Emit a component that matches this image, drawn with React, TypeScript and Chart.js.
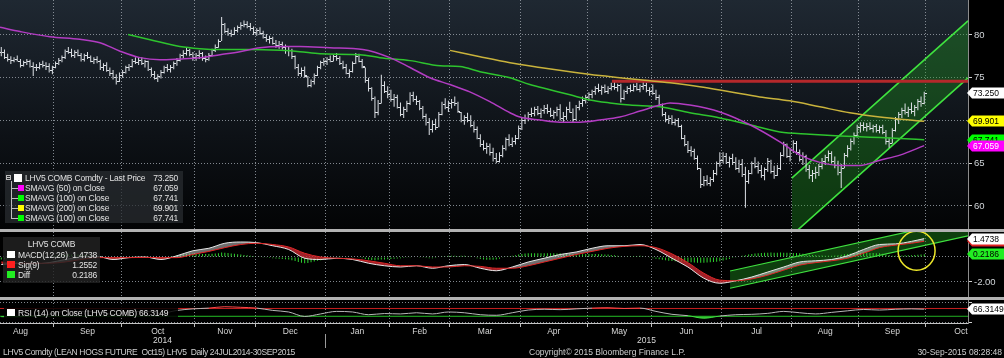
import React, { useEffect, useRef } from 'react';
import { Chart, registerables } from 'chart.js';

Chart.register(...registerables);

const FONT = "'Liberation Sans', Arial, Helvetica, sans-serif";
const GRID = 'rgba(150,158,166,0.85)';

// x axis = trading-session index (0 = first visible session, Aug 2014; 289 = 30 Sep 2015)
const X_MIN = -0.4;
const X_MAX = 302.7;
const MONTH_BOUNDS = [16.5, 37.5, 60.5, 79.5, 101.5, 121.5, 140.5, 162.5, 183.5, 203.5, 225.5, 247.5, 268.5, 289.5];
const MONTH_CENTERS = [6, 27, 49, 70, 90.5, 111.5, 131, 151.5, 173, 193.5, 214.5, 236.5, 258, 279, 300.5];
const MONTH_LABELS = ['Aug', 'Sep', 'Oct', 'Nov', 'Dec', 'Jan', 'Feb', 'Mar', 'Apr', 'May', 'Jun', 'Jul', 'Aug', 'Sep', 'Oct'];
const YEAR_CENTERS = [50.5, 202];
const YEAR_LABELS = ['2014', '2015'];
const YEAR_SPLIT = 101.5;

// Daily bars, LHV5 COMB
const HIGH = [
  78.6, 78.3, 77.8, 77.5, 77.4, 77.6, 77.2, 77.0, 77.2, 77.1, 76.8, 76.6, 76.8, 77.0, 76.8, 76.7, 76.4,
  76.9, 77.3, 77.6, 78.3, 78.6, 78.4, 78.2, 78.3, 77.9, 77.8, 78.0, 77.6, 77.4, 77.5, 77.1, 76.7, 76.8, 76.2, 75.9, 75.4, 75.6,
  75.9, 76.4, 76.6, 77.2, 77.4, 77.3, 77.4, 77.1, 77.0, 76.2, 75.8, 75.4, 75.9, 76.4, 76.6, 76.5, 76.9, 77.3, 77.8, 78.2, 78.5, 78.4, 78.0,
  77.9, 78.2, 78.0, 77.6, 77.9, 78.4, 78.9, 79.5, 82.1, 81.4, 80.8, 80.6, 80.9, 81.1, 81.5, 81.7, 81.6, 81.4, 81.0,
  80.8, 80.9, 80.5, 80.1, 79.9, 79.8, 79.4, 79.3, 79.2, 78.9, 78.6, 78.4, 77.6, 76.6, 76.2, 76.3, 75.2, 74.8, 75.5, 76.4, 77.0, 77.3,
  77.4, 77.6, 77.7, 77.9, 77.5, 77.0, 76.6, 76.0, 76.9, 77.9, 77.8, 77.2, 76.2, 75.0, 73.9, 72.8, 72.4, 75.35, 74.6, 74.0,
  73.6, 73.1, 73.0, 72.1, 71.6, 72.3, 73.3, 73.35, 72.9, 72.4, 71.7, 70.8, 70.3, 70.0, 70.2, 71.0, 72.2, 72.6, 72.3,
  72.5, 72.8, 72.2, 71.0, 70.6, 70.9, 70.6, 69.9, 69.3, 68.4, 67.7, 67.4, 67.3, 66.8, 66.2, 66.3, 67.1, 68.0, 68.4, 68.0, 68.3, 69.4,
  70.4, 70.7, 71.0, 71.5, 71.6, 71.7, 71.4, 71.8, 71.9, 71.5, 71.2, 71.6, 71.9, 71.0, 71.6, 72.2, 71.4, 71.8, 72.3, 72.8, 73.0,
  73.3, 73.6, 74.0, 74.3, 74.1, 74.2, 74.0, 74.4, 74.5, 74.3, 74.3, 73.6, 74.0, 74.2, 74.3, 74.4, 74.2, 74.5, 74.4, 73.9,
  74.2, 73.6, 73.0, 72.0, 71.0, 70.6, 70.6, 70.2, 70.3, 69.5, 68.3, 67.6, 67.0, 66.7, 65.9, 64.4, 63.5, 63.6, 63.4, 64.2, 65.2, 66.3,
  66.3, 66.2, 65.8, 66.1, 65.7, 65.4, 65.5, 64.6, 64.2, 65.2, 65.7, 65.2, 64.8, 64.5, 65.6, 65.4, 64.7, 64.8, 66.3, 67.5, 67.3, 66.7,
  67.7, 67.6, 66.6, 66.3, 66.0, 64.8, 64.2, 64.6, 64.9, 65.6, 66.0, 66.5, 66.4, 65.8, 65.3, 64.9, 66.2, 67.1, 67.9, 68.6, 69.5,
  69.8, 69.8, 69.7, 69.8, 69.5, 69.6, 69.4, 69.5, 68.9, 68.0, 69.1, 70.4, 71.0, 71.5, 72.0, 71.6, 72.1, 71.8, 72.5, 72.8, 73.35,
];
const LOW = [
  77.5, 77.2, 76.9, 76.6, 76.8, 76.9, 76.2, 76.3, 76.5, 76.2, 75.2, 75.8, 76.0, 76.2, 75.9, 75.6, 75.4,
  76.1, 76.5, 76.8, 77.2, 77.8, 77.4, 77.3, 77.5, 76.9, 76.9, 77.2, 76.8, 76.6, 76.7, 75.9, 75.8, 75.7, 75.2, 74.8, 74.2, 74.5,
  75.0, 75.5, 75.8, 76.2, 76.6, 76.5, 76.5, 76.2, 75.8, 75.1, 74.8, 74.5, 74.9, 75.5, 75.7, 75.6, 76.0, 76.4, 76.9, 77.3, 77.6, 77.5, 77.0,
  77.0, 77.2, 77.0, 76.8, 77.0, 77.5, 78.0, 78.5, 79.3, 80.2, 79.9, 79.8, 80.0, 80.3, 80.6, 80.9, 80.8, 80.5, 80.0,
  79.9, 80.0, 79.6, 79.2, 79.0, 78.9, 78.5, 78.4, 78.3, 77.8, 77.5, 77.2, 76.0, 75.2, 75.1, 75.0, 73.9, 73.9, 74.2, 75.2, 76.0, 76.4,
  76.5, 76.8, 76.9, 77.0, 76.5, 76.0, 75.4, 75.0, 75.6, 76.6, 76.8, 76.1, 74.4, 73.4, 72.3, 70.3, 70.6, 72.0, 73.2, 72.6,
  72.2, 71.6, 71.4, 70.5, 70.3, 71.0, 71.8, 72.2, 71.8, 71.2, 70.2, 69.4, 68.3, 68.6, 68.9, 69.2, 70.6, 71.3, 71.0,
  71.4, 71.7, 70.9, 69.8, 69.5, 69.8, 69.2, 68.6, 67.8, 66.9, 66.5, 66.1, 65.9, 65.2, 65.0, 65.1, 65.7, 66.5, 67.0, 66.9, 67.2, 67.8,
  68.9, 69.6, 69.9, 70.4, 70.5, 70.6, 70.3, 70.8, 70.8, 70.4, 70.2, 70.5, 70.0, 69.7, 70.1, 70.9, 69.8, 70.0, 71.2, 71.6, 72.0,
  72.3, 72.6, 73.0, 73.3, 73.0, 73.2, 73.1, 73.5, 73.6, 73.4, 72.1, 72.4, 73.1, 73.3, 73.4, 73.5, 73.3, 73.6, 73.3, 72.9,
  73.0, 72.4, 71.6, 70.5, 69.8, 69.6, 69.5, 69.4, 69.2, 67.8, 67.0, 66.2, 65.8, 65.4, 64.2, 62.1, 62.3, 62.4, 62.3, 62.8, 63.6, 64.6,
  65.0, 64.9, 64.5, 64.8, 64.2, 63.9, 63.4, 59.8, 62.6, 63.7, 64.4, 63.8, 63.3, 63.0, 64.0, 63.8, 63.2, 63.5, 64.2, 65.8, 65.6, 65.2,
  66.2, 66.0, 65.2, 64.8, 64.0, 63.2, 62.8, 63.2, 63.5, 64.3, 64.8, 65.2, 65.0, 64.4, 63.6, 62.1, 64.4, 65.7, 66.5, 67.2, 68.0,
  68.6, 68.8, 68.7, 68.9, 68.6, 68.6, 68.5, 68.4, 67.2, 66.8, 67.3, 68.7, 69.6, 70.3, 70.7, 70.4, 70.8, 70.5, 71.2, 71.6, 71.9,
];
const CLOSE = [
  78.0, 77.4, 77.2, 77.1, 77.2, 77.0, 76.5, 76.8, 77.0, 76.4, 76.2, 76.3, 76.6, 76.5, 76.4, 75.9, 76.2,
  76.7, 77.1, 77.4, 78.1, 78.0, 77.6, 78.0, 77.7, 77.2, 77.6, 77.4, 77.0, 77.2, 76.9, 76.2, 76.5, 75.9, 75.6, 75.1, 74.6, 75.3,
  75.7, 76.2, 76.4, 77.0, 76.8, 77.1, 76.7, 76.9, 76.0, 75.4, 75.0, 75.2, 75.7, 76.2, 76.0, 76.3, 76.7, 77.1, 77.6, 77.9, 78.3, 77.8, 77.4,
  77.6, 77.9, 77.3, 77.2, 77.7, 78.2, 78.6, 79.3, 81.3, 80.5, 80.2, 80.1, 80.6, 80.9, 81.2, 81.3, 81.0, 80.8, 80.3,
  80.6, 80.2, 79.8, 79.5, 79.7, 79.1, 78.8, 79.0, 78.6, 78.2, 78.3, 77.5, 76.3, 75.6, 75.9, 75.3, 74.2, 74.6, 75.3, 76.2, 76.8, 76.9,
  77.2, 77.0, 77.5, 77.3, 76.7, 76.3, 75.6, 75.8, 76.7, 77.5, 77.0, 76.4, 74.7, 73.8, 72.6, 71.0, 72.1, 74.2, 73.5, 73.1,
  72.5, 72.8, 71.6, 70.8, 71.3, 72.0, 73.0, 72.5, 72.3, 71.5, 70.5, 69.8, 69.0, 69.6, 69.2, 70.8, 71.9, 71.6, 72.0,
  72.2, 72.0, 71.1, 70.1, 70.4, 70.0, 69.5, 69.0, 68.0, 67.2, 66.8, 67.0, 66.3, 65.6, 65.3, 66.0, 66.8, 67.8, 67.3, 67.6, 67.9, 69.1,
  70.1, 70.3, 70.8, 70.9, 71.3, 70.9, 71.2, 71.5, 71.1, 70.7, 71.0, 71.4, 70.3, 70.5, 71.4, 71.0, 70.2, 71.6, 72.0, 72.4, 72.8,
  73.1, 73.4, 73.8, 73.6, 73.9, 73.5, 73.8, 74.0, 73.9, 74.1, 72.6, 73.4, 73.8, 73.6, 74.0, 73.7, 74.0, 74.1, 73.6, 73.5,
  73.2, 72.7, 71.9, 70.8, 70.2, 70.3, 69.8, 70.0, 69.4, 68.0, 67.3, 66.6, 66.4, 65.6, 64.4, 62.6, 63.0, 62.7, 63.1, 63.9, 65.0, 65.4,
  65.8, 65.2, 65.6, 65.1, 64.5, 64.9, 63.8, 62.9, 63.9, 65.0, 64.7, 64.2, 63.6, 64.3, 65.3, 64.1, 63.6, 64.5, 66.0, 67.2, 65.9, 66.5,
  67.4, 66.3, 65.5, 65.9, 64.3, 63.6, 63.9, 64.0, 64.7, 65.3, 65.7, 66.2, 65.3, 64.8, 64.0, 64.5, 66.0, 66.8, 67.6, 68.3, 69.2,
  69.5, 69.2, 69.4, 69.1, 69.3, 68.9, 69.2, 68.7, 67.6, 67.4, 68.9, 70.2, 70.8, 71.2, 71.0, 71.4, 71.1, 71.6, 72.3, 72.0, 73.25,
];

// Moving averages: [session index, value]
const SMA50 = [
  [-0.4, 80.9], [5.9, 80.4], [15.2, 79.8], [24.6, 79.5], [30.9, 79.1], [37.2, 78.1], [43.4, 77.35], [49.7, 77.1],
  [55.9, 77.2], [62.2, 77.35], [68.5, 77.7], [74.7, 78.05], [81.0, 78.5], [87.3, 78.65], [93.5, 78.65], [102.9, 78.5],
  [113.2, 78.3], [121.7, 77.35], [128.0, 76.2], [134.2, 75.0], [140.5, 74.2], [146.7, 73.35], [153.0, 72.2], [159.3, 70.9],
  [162.4, 70.4], [168.7, 70.05], [174.9, 69.8], [181.2, 69.8], [187.4, 70.05], [193.7, 70.4], [200.0, 71.1], [206.2, 71.8],
  [209.4, 72.05], [215.6, 71.8], [225.0, 71.0], [234.4, 69.5], [243.8, 67.5], [250.1, 65.95], [256.3, 65.1], [262.6, 64.75],
  [268.9, 64.75], [275.1, 65.35], [281.4, 65.95], [289, 67.059],
];
const SMA100 = [
  [39.7, 80.05], [46.6, 79.45], [55.9, 78.65], [62.2, 78.4], [68.5, 78.3], [77.9, 78.3], [87.3, 78.2], [93.5, 78.05],
  [99.8, 77.8], [112.3, 77.7], [118.6, 77.35], [128.0, 77.0], [137.4, 76.4], [143.6, 76.3], [149.9, 75.7], [159.3, 75.0],
  [165.5, 74.2], [171.8, 73.6], [178.1, 73.0], [184.3, 72.4], [190.6, 72.05], [196.8, 71.8], [206.2, 71.6], [215.6, 70.9],
  [225.0, 70.3], [234.4, 69.5], [243.8, 68.65], [253.2, 68.4], [262.6, 68.2], [272.0, 68.05], [281.4, 67.9], [289, 67.741],
];
const SMA200 = [
  [140.5, 78.2], [149.9, 77.45], [159.3, 76.75], [168.7, 76.2], [178.1, 75.7], [187.4, 75.25], [193.7, 75.0], [200.0, 74.75],
  [209.4, 74.4], [218.7, 73.95], [228.1, 73.35], [237.5, 72.75], [246.9, 72.3], [256.3, 71.6], [265.7, 70.9], [275.1, 70.4],
  [284.5, 70.05], [289, 69.901],
];
const RESIST_LEVEL = 74.6;
const RESIST_FROM = 191.2;
const CHANNEL_X = [247.5, 302.7];
const CHANNEL_UP = [63.25, 81.65];
const CHANNEL_LO = [56.57, 74.98];
const MAIN_TICKS = [60, 65, 70, 75, 80];

// MACD panel
const IND_X = [0, 5, 10, 15, 20, 25, 30, 35, 40, 45, 50, 55, 60, 65, 70, 75, 80, 85, 90, 95, 100, 105, 110, 115, 120, 125, 130, 135, 140, 145,
  150, 155, 160, 165, 170, 175, 180, 185, 190, 195, 200, 205, 210, 215, 220, 225, 230, 235, 240, 245, 250, 255, 260, 265, 270, 275, 280, 285, 289];
const MACD = [-0.6, -0.5, -0.55, -0.45, -0.2, 0.0, 0.05, -0.2, -0.05, 0.0, -0.2, 0.1, 0.5, 0.7, 1.1, 1.2, 1.15, 0.9, 0.6, -0.1,
  -0.2, -0.1, -0.2, -0.5, -0.7, -0.8, -0.7, -0.9, -0.7, -0.6, -0.9, -1.1, -0.8, -0.4, -0.1, 0.2, 0.4, 0.7, 0.9, 0.9,
  1.0, 0.6, -0.1, -0.8, -1.7, -2.1, -1.9, -1.6, -1.2, -0.8, -0.4, -0.3, -0.2, 0.1, 0.6, 1.0, 1.05, 1.25, 1.4738];
const SIGNAL = [-0.4, -0.5, -0.5, -0.5, -0.4, -0.2, -0.05, -0.05, -0.05, -0.03, -0.05, -0.05, 0.2, 0.45, 0.75, 1.0, 1.1, 1.0, 0.8, 0.3,
  0.0, -0.1, -0.15, -0.3, -0.5, -0.7, -0.7, -0.8, -0.8, -0.7, -0.75, -0.9, -0.9, -0.7, -0.4, -0.1, 0.2, 0.45, 0.7, 0.85,
  0.9, 0.75, 0.25, -0.45, -1.3, -1.85, -1.9, -1.75, -1.45, -1.05, -0.65, -0.45, -0.3, -0.1, 0.3, 0.75, 0.95, 1.1, 1.2552];
const DIFF = [
  -0.20, -0.17, -0.13, -0.09, -0.04, 0.00, 0.02, -0.02, -0.04, -0.05,
  -0.05, -0.03, 0.00, 0.03, 0.04, 0.05, 0.08, 0.12, 0.15, 0.18,
  0.20, 0.22, 0.21, 0.22, 0.20, 0.19, 0.17, 0.15, 0.13, 0.11,
  0.08, 0.03, -0.02, -0.07, -0.11, -0.15, -0.17, -0.14, -0.10, -0.05,
  0.00, 0.02, 0.04, 0.05, 0.04, 0.03, -0.02, -0.08, -0.13, -0.15,
  -0.14, -0.10, -0.04, 0.02, 0.08, 0.14, 0.18, 0.22, 0.26, 0.28,
  0.28, 0.27, 0.25, 0.24, 0.24, 0.25, 0.27, 0.29, 0.31, 0.36,
  0.35, 0.32, 0.29, 0.26, 0.23, 0.20, 0.17, 0.14, 0.11, 0.08,
  0.05, 0.02, -0.02, -0.05, -0.08, -0.10, -0.12, -0.14, -0.16, -0.18,
  -0.20, -0.25, -0.32, -0.40, -0.46, -0.50, -0.48, -0.42, -0.36, -0.30,
  -0.25, -0.18, -0.12, -0.06, -0.02, 0.00, 0.01, 0.00, -0.02, -0.04,
  -0.05, -0.04, -0.06, -0.10, -0.16, -0.20, -0.23, -0.25, -0.22, -0.20,
  -0.20, -0.18, -0.16, -0.14, -0.12, -0.10, -0.08, -0.05, -0.02, 0.00,
  0.00, -0.02, -0.05, -0.08, -0.10, -0.10, -0.08, -0.04, 0.02, 0.06,
  0.10, 0.11, 0.10, 0.09, 0.10, 0.10, 0.06, 0.01, -0.04, -0.09,
  -0.15, -0.19, -0.21, -0.22, -0.21, -0.20, -0.14, -0.06, 0.02, 0.07,
  0.10, 0.15, 0.20, 0.25, 0.28, 0.30, 0.31, 0.31, 0.30, 0.30,
  0.30, 0.31, 0.30, 0.30, 0.29, 0.30, 0.27, 0.25, 0.24, 0.22,
  0.20, 0.21, 0.23, 0.24, 0.25, 0.25, 0.24, 0.23, 0.22, 0.21,
  0.20, 0.17, 0.14, 0.10, 0.07, 0.05, 0.06, 0.07, 0.08, 0.09,
  0.10, 0.06, 0.00, -0.05, -0.10, -0.14, -0.18, -0.22, -0.26, -0.29,
  -0.32, -0.34, -0.36, -0.38, -0.40, -0.40, -0.42, -0.44, -0.45, -0.45,
  -0.45, -0.44, -0.42, -0.40, -0.37, -0.33, -0.28, -0.22, -0.15, -0.08,
  -0.02, 0.04, 0.10, 0.15, 0.20, 0.25, 0.28, 0.31, 0.33, 0.34,
  0.35, 0.36, 0.35, 0.34, 0.36, 0.35, 0.34, 0.35, 0.33, 0.32,
  0.30, 0.27, 0.23, 0.19, 0.16, 0.15, 0.13, 0.12, 0.11, 0.10,
  0.10, 0.12, 0.15, 0.19, 0.22, 0.25, 0.28, 0.31, 0.33, 0.35,
  0.35, 0.34, 0.33, 0.32, 0.31, 0.30, 0.26, 0.21, 0.16, 0.11,
  0.10, 0.11, 0.12, 0.14, 0.15, 0.15, 0.17, 0.19, 0.20, 0.2186,
];
const MACD_CH_X = [228.2, 302.7];
const MACD_CH_UP = [-1.12, 3.07];
const MACD_CH_LO = [-2.5, 1.69];
const MACD_TICKS = [-2, 0];
const HIGHLIGHT = { x: 286.6, y: 0.5 };

// RSI panel
const RSI = [28, 27, 32, 40, 55, 55, 52, 40, 52, 55, 45, 60, 68, 72, 79, 76, 72, 60, 52, 29,
  42, 55, 52, 38, 44, 42, 48, 42, 52, 48, 38, 35, 48, 62, 66, 64, 68, 72, 74, 70,
  72, 55, 40, 33, 20, 31, 38, 40, 45, 55, 48, 42, 50, 58, 65, 62, 66, 68, 66.3149];
const RSI_LEVELS = [70, 30];

const pts = (xs: number[], ys: number[]) => xs.map((x, i) => ({ x, y: ys[i] }));
const pairPts = (arr: number[][]) => arr.map(([x, y]) => ({ x, y }));
const last = <T,>(a: T[]) => a[a.length - 1];

function xGridAxis(): any {
  return {
    type: 'linear', min: X_MIN, max: X_MAX, bounds: 'data', offset: false,
    afterBuildTicks: (ax: any) => { ax.ticks = MONTH_BOUNDS.map((v) => ({ value: v })); },
    grid: { color: GRID, drawTicks: false, lineWidth: 1, offset: false },
    border: { display: false, dash: [1, 2] },
    ticks: { display: false },
    afterFit: (ax: any) => { ax.height = 0; ax.paddingLeft = 0; ax.paddingRight = 0; },
  };
}

function yAxis(min: number, max: number, ticks: number[], labels: (v: number) => string, showLabels: boolean): any {
  return {
    type: 'linear', position: 'right', min, max, bounds: 'data', beginAtZero: false,
    afterBuildTicks: (ax: any) => { ax.ticks = ticks.map((v) => ({ value: v })); },
    grid: { color: GRID, drawTicks: true, tickLength: 4, tickColor: '#cfcfcf', tickBorderDash: [] },
    border: { display: true, color: '#8c8c8c', dash: [1, 2] },
    ticks: { display: showLabels, color: '#d2d6da', font: { size: 9.5, family: FONT }, padding: 2, callback: (v: number) => labels(v) },
    afterFit: (ax: any) => { ax.width = 36; ax.paddingTop = 0; ax.paddingBottom = 0; },
  };
}

function makeTags(items: { v: number; d: number; bg: string; fg: string }[]) {
  return {
    id: 'valueTags',
    afterDraw(chart: any) {
      const { ctx, chartArea } = chart;
      const ys = chart.scales.y;
      ctx.save();
      ctx.font = `8.5px ${FONT}`;
      ctx.textBaseline = 'middle';
      for (const it of items) {
        const y = Math.round(ys.getPixelForValue(it.v));
        const x0 = chartArea.right - 1;
        const x1 = chart.width;
        const h = 11;
        ctx.fillStyle = it.bg;
        ctx.beginPath();
        ctx.moveTo(x0, y);
        ctx.lineTo(x0 + 5, y - h / 2);
        ctx.lineTo(x1, y - h / 2);
        ctx.lineTo(x1, y + h / 2);
        ctx.lineTo(x0 + 5, y + h / 2);
        ctx.closePath();
        ctx.fill();
        ctx.fillStyle = it.fg;
        ctx.fillText(it.v.toFixed(it.d), x0 + 6, y + 0.5);
      }
      ctx.restore();
    },
  };
}

const bgGradient = {
  id: 'bgGradient',
  beforeDraw(chart: any) {
    const { ctx, chartArea: a } = chart;
    const g = ctx.createLinearGradient(0, a.top, 0, a.bottom);
    g.addColorStop(0, '#1f2832');
    g.addColorStop(0.6, '#0d1116');
    g.addColorStop(1, '#030405');
    ctx.save();
    ctx.fillStyle = g;
    ctx.fillRect(a.left, a.top, a.right - a.left, a.bottom - a.top);
    ctx.restore();
  },
};

const ohlcTicks = {
  id: 'ohlcTicks',
  afterDatasetDraw(chart: any, args: any) {
    if (chart.data.datasets[args.index].label !== 'price') return;
    const { ctx, chartArea: a } = chart;
    const xs = chart.scales.x;
    const ys = chart.scales.y;
    ctx.save();
    ctx.beginPath();
    ctx.rect(a.left, a.top, a.right - a.left, a.bottom - a.top);
    ctx.clip();
    ctx.fillStyle = '#dfe3e8';
    for (let i = 0; i < CLOSE.length; i++) {
      const x = Math.floor(xs.getPixelForValue(i));
      const open = i > 0 ? Math.min(HIGH[i], Math.max(LOW[i], CLOSE[i - 1])) : CLOSE[i];
      ctx.fillRect(x - 2, Math.round(ys.getPixelForValue(open)), 2, 1);
      ctx.fillRect(x + 1, Math.round(ys.getPixelForValue(CLOSE[i])), 2, 1);
    }
    ctx.restore();
  },
};

const circleMark = {
  id: 'circleMark',
  afterDatasetsDraw(chart: any) {
    const { ctx } = chart;
    const x = chart.scales.x.getPixelForValue(HIGHLIGHT.x);
    const y = chart.scales.y.getPixelForValue(HIGHLIGHT.y);
    ctx.save();
    ctx.strokeStyle = '#ece62a';
    ctx.lineWidth = 1.5;
    ctx.beginPath();
    ctx.ellipse(x, y, 18.5, 19.5, 0, 0, Math.PI * 2);
    ctx.stroke();
    ctx.restore();
  },
};

// month / year labels of the time axis, placed with the x scale
const timeLabels = {
  id: 'timeLabels',
  afterDraw(chart: any) {
    const { ctx } = chart;
    const xs = chart.scales.x;
    const top = xs.top;
    ctx.save();
    ctx.font = `8.5px ${FONT}`;
    ctx.fillStyle = '#d6d6d6';
    ctx.textAlign = 'center';
    ctx.textBaseline = 'middle';
    MONTH_CENTERS.forEach((v, i) => ctx.fillText(MONTH_LABELS[i], xs.getPixelForValue(v), top + 8.5));
    YEAR_CENTERS.forEach((v, i) => ctx.fillText(YEAR_LABELS[i], xs.getPixelForValue(v), top + 17.5));
    const sx = Math.round(xs.getPixelForValue(YEAR_SPLIT)) + 0.5;
    ctx.strokeStyle = '#9a9a9a';
    ctx.lineWidth = 1;
    ctx.beginPath();
    ctx.moveTo(sx, top + 11);
    ctx.lineTo(sx, chart.height);
    ctx.stroke();
    ctx.restore();
  },
};

const baseOptions = {
  responsive: false,
  animation: false,
  events: [],
  layout: { padding: 0 },
  plugins: { legend: { display: false }, tooltip: { enabled: false } },
};

function mainConfig(): any {
  const line = (label: string, data: any[], color: string, width: number, order: number, extra: any = {}) => ({
    type: 'line', label, data, borderColor: color, borderWidth: width, pointRadius: 0, fill: false,
    cubicInterpolationMode: 'monotone', order, ...extra,
  });
  return {
    type: 'line',
    data: {
      datasets: [
        line('chUp', pts(CHANNEL_X, CHANNEL_UP), '#3fe23f', 1.6, 10, { fill: '+1', backgroundColor: 'rgba(30,150,30,0.36)' }),
        line('chLo', pts(CHANNEL_X, CHANNEL_LO), '#3fe23f', 1.6, 9),
        {
          type: 'bar', label: 'price', data: CLOSE.map((_, i) => ({ x: i, y: [LOW[i], HIGH[i]] })),
          backgroundColor: '#dfe3e8', barThickness: 1, inflateAmount: 0, grouped: false, order: 8,
        },
        line('resist', [{ x: RESIST_FROM, y: RESIST_LEVEL }, { x: X_MAX, y: RESIST_LEVEL }], '#b5282b', 3, 7),
        line('sma200', pairPts(SMA200), '#c9b33c', 1.5, 6),
        line('sma100', pairPts(SMA100), '#2ec42e', 1.5, 5),
        line('sma50', pairPts(SMA50), '#b23cc2', 1.5, 4),
      ],
    },
    options: {
      ...baseOptions,
      scales: {
        x: xGridAxis(),
        y: yAxis(57.31, 84.09, MAIN_TICKS, (v) => String(v), true),
      },
    },
    plugins: [
      bgGradient,
      ohlcTicks,
      makeTags([
        { v: last(CLOSE), d: 3, bg: '#ffffff', fg: '#000000' },
        { v: last(SMA200)[1], d: 3, bg: '#ffff00', fg: '#000000' },
        { v: last(SMA100)[1], d: 3, bg: '#00ff00', fg: '#000000' },
        { v: last(SMA50)[1], d: 3, bg: '#ff00ff', fg: '#ffffff' },
      ]),
    ],
  };
}

function macdConfig(): any {
  return {
    type: 'line',
    data: {
      datasets: [
        { type: 'line', label: 'chUp', data: pts(MACD_CH_X, MACD_CH_UP), borderColor: '#3fe03f', borderWidth: 1.2, pointRadius: 0, fill: '+1', backgroundColor: 'rgba(30,140,30,0.45)', order: 10 },
        { type: 'line', label: 'chLo', data: pts(MACD_CH_X, MACD_CH_LO), borderColor: '#3fe03f', borderWidth: 1.2, pointRadius: 0, fill: false, order: 9 },
        {
          type: 'bar', label: 'diff', data: DIFF.map((v, i) => ({ x: i, y: v })),
          backgroundColor: '#2fd02f', barThickness: 1, inflateAmount: 0, grouped: false, order: 8,
        },
        {
          type: 'line', label: 'macd', data: pts(IND_X, MACD), borderColor: '#e6e6e6', borderWidth: 1, pointRadius: 0,
          cubicInterpolationMode: 'monotone', order: 6,
          fill: { target: 4, above: 'rgba(200,200,200,0.55)', below: 'rgba(200,40,50,0.8)' },
        },
        {
          type: 'line', label: 'sig', data: pts(IND_X, SIGNAL), borderColor: '#e02525', borderWidth: 1, pointRadius: 0,
          cubicInterpolationMode: 'monotone', fill: false, order: 5,
        },
      ],
    },
    options: {
      ...baseOptions,
      scales: {
        x: xGridAxis(),
        y: yAxis(-3.2, 2.0, MACD_TICKS, (v) => (v === -2 ? '-2.00' : ''), true),
      },
    },
    plugins: [
      circleMark,
      makeTags([
        { v: last(SIGNAL), d: 4, bg: '#e02020', fg: '#ffffff' },
        { v: last(MACD), d: 4, bg: '#ffffff', fg: '#000000' },
        { v: last(DIFF), d: 4, bg: '#22ee22', fg: '#000000' },
      ]),
    ],
  };
}

function rsiConfig(): any {
  const xa = xGridAxis();
  return {
    type: 'line',
    data: {
      datasets: [
        {
          label: 'rsi', data: pts(IND_X, RSI), borderWidth: 1, pointRadius: 0, cubicInterpolationMode: 'monotone', order: 1,
          borderColor: '#b8b8b8',
          segment: {
            borderColor: (c: any) => {
              const m = (c.p0.parsed.y + c.p1.parsed.y) / 2;
              return m > RSI_LEVELS[0] ? '#ff4a4a' : m < RSI_LEVELS[1] ? '#44dd44' : '#b8b8b8';
            },
          },
          fill: { target: { value: RSI_LEVELS[1] }, above: 'rgba(0,0,0,0)', below: 'rgba(50,210,50,0.9)' },
        },
        { label: 'lvlHi', data: [{ x: X_MIN, y: RSI_LEVELS[0] }, { x: X_MAX, y: RSI_LEVELS[0] }], borderColor: '#c41e1e', borderWidth: 1, pointRadius: 0, fill: false, order: 3 },
        { label: 'lvlLo', data: [{ x: X_MIN, y: RSI_LEVELS[1] }, { x: X_MAX, y: RSI_LEVELS[1] }], borderColor: '#22b022', borderWidth: 1, pointRadius: 0, fill: false, order: 2 },
      ],
    },
    options: {
      ...baseOptions,
      scales: {
        x: {
          ...xa,
          grid: { color: GRID, drawTicks: true, tickLength: 4, tickColor: '#bdbdbd', tickBorderDash: [], offset: false },
          border: { display: true, color: '#c4c4c4', dash: [1, 2] },
          afterFit: (ax: any) => { ax.height = 25; ax.paddingLeft = 0; ax.paddingRight = 0; },
        },
        y: yAxis(-4.6, 113.6, [0, 100], () => '', false),
      },
    },
    plugins: [timeLabels, makeTags([{ v: last(RSI), d: 4, bg: '#ffffff', fg: '#000000' }])],
  };
}

const MAIN_LEGEND = [
  { label: 'LHV5 COMB Comdty - Last Price', value: last(CLOSE).toFixed(3), color: '#ffffff' },
  { label: 'SMAVG (50) on Close', value: last(SMA50)[1].toFixed(3), color: '#ff00ff' },
  { label: 'SMAVG (100) on Close', value: last(SMA100)[1].toFixed(3), color: '#00ff00' },
  { label: 'SMAVG (200) on Close', value: last(SMA200)[1].toFixed(3), color: '#ffff00' },
  { label: 'SMAVG (100) on Close', value: last(SMA100)[1].toFixed(3), color: '#00ff00' },
];
const MACD_LEGEND = [
  { label: 'MACD(12,26)', value: last(MACD).toFixed(4), color: '#ffffff' },
  { label: 'Sig(9)', value: last(SIGNAL).toFixed(4), color: '#ff2020' },
  { label: 'Diff', value: last(DIFF).toFixed(4), color: '#22ee22' },
];

const txt: React.CSSProperties = { position: 'absolute', fontFamily: FONT, fontSize: '8.5px', color: '#e2e2e2', whiteSpace: 'pre', lineHeight: '10px', letterSpacing: '-0.2px' };

export default function App() {
  const mainRef = useRef<HTMLCanvasElement>(null);
  const macdRef = useRef<HTMLCanvasElement>(null);
  const rsiRef = useRef<HTMLCanvasElement>(null);

  useEffect(() => {
    document.body.style.margin = '0';
    document.body.style.background = '#000';
    const charts = [
      new Chart(mainRef.current as HTMLCanvasElement, mainConfig()),
      new Chart(macdRef.current as HTMLCanvasElement, macdConfig()),
      new Chart(rsiRef.current as HTMLCanvasElement, rsiConfig()),
    ];
    return () => charts.forEach((c) => c.destroy());
  }, []);

  return (
    <div style={{ position: 'relative', width: 1004, height: 358, background: '#000', overflow: 'hidden' }}>
      <canvas ref={mainRef} width={1004} height={229} style={{ position: 'absolute', left: 0, top: 0, width: 1004, height: 229 }} />
      <div style={{ position: 'absolute', left: 0, top: 229, width: 1004, height: 3, background: '#b2b2b2' }} />
      <canvas ref={macdRef} width={1004} height={65} style={{ position: 'absolute', left: 0, top: 232, width: 1004, height: 65 }} />
      <div style={{ position: 'absolute', left: 0, top: 297, width: 1004, height: 3, background: '#b2b2b2' }} />
      <canvas ref={rsiRef} width={1004} height={48} style={{ position: 'absolute', left: 0, top: 300, width: 1004, height: 48 }} />

      {/* main legend */}
      <div style={{ position: 'absolute', left: 5, top: 171, width: 178, height: 52, background: 'rgba(40,44,48,0.74)' }} />
      <div style={{ position: 'absolute', left: 6, top: 175, width: 5, height: 5, border: '1px solid #bdbdbd', boxSizing: 'border-box' }} />
      <div style={{ position: 'absolute', left: 7, top: 177, width: 3, height: 1, background: '#bdbdbd' }} />
      <div style={{ position: 'absolute', left: 11, top: 181, width: 1, height: 37, background: '#bdbdbd' }} />
      {MAIN_LEGEND.map((r, k) => (
        <React.Fragment key={k}>
          {k > 0 && <div style={{ position: 'absolute', left: 11, top: 178 + 10 * k, width: 7, height: 1, background: '#bdbdbd' }} />}
          <div
            style={{
              position: 'absolute',
              left: k === 0 ? 14 : 18,
              top: k === 0 ? 174 : 175 + 10 * k,
              width: k === 0 ? 8 : 6,
              height: k === 0 ? 8 : 6,
              background: r.color,
            }}
          />
          <div style={{ ...txt, left: 25, top: 173 + 10 * k }}>{r.label}</div>
          <div style={{ ...txt, left: 100, width: 78, textAlign: 'right', top: 173 + 10 * k }}>{r.value}</div>
        </React.Fragment>
      ))}

      {/* MACD legend */}
      <div style={{ position: 'absolute', left: 3, top: 237, width: 97, height: 46, background: 'rgba(34,34,34,0.82)' }} />
      <div style={{ ...txt, left: 3, width: 97, textAlign: 'center', top: 239 }}>LHV5 COMB</div>
      {MACD_LEGEND.map((r, k) => (
        <React.Fragment key={k}>
          <div style={{ position: 'absolute', left: 7, top: 251 + 10 * k, width: 8, height: 7, background: r.color }} />
          <div style={{ ...txt, left: 18, top: 250 + 10 * k }}>{r.label}</div>
          <div style={{ ...txt, left: 50, width: 47, textAlign: 'right', top: 250 + 10 * k }}>{r.value}</div>
        </React.Fragment>
      ))}

      {/* RSI legend */}
      <div style={{ position: 'absolute', left: 4, top: 305, width: 174, height: 13, background: 'rgba(0,0,0,0.85)' }} />
      <div style={{ position: 'absolute', left: 7, top: 309, width: 8, height: 7, background: '#ffffff' }} />
      <div style={{ ...txt, left: 18, top: 308 }}>{`RSI (14) on Close (LHV5 COMB) ${last(RSI).toFixed(4)}`}</div>

      {/* footer */}
      <div style={{ ...txt, left: 3, top: 347, color: '#cfcfcf', letterSpacing: '-0.35px' }}>LHV5 Comdty (LEAN HOGS FUTURE  Oct15) LHV5  Daily 24JUL2014-30SEP2015</div>
      <div style={{ ...txt, left: 529, top: 347, color: '#cfcfcf', letterSpacing: '0px' }}>Copyright© 2015 Bloomberg Finance L.P.</div>
      <div style={{ ...txt, right: 2, top: 347, color: '#cfcfcf', letterSpacing: '0px' }}>30-Sep-2015 08:28:48</div>
    </div>
  );
}
